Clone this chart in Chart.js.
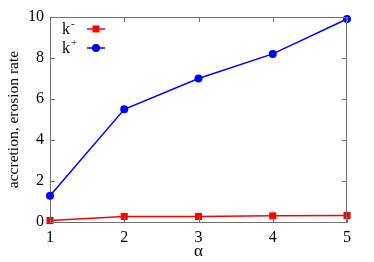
<!DOCTYPE html>
<html>
<head>
<meta charset="utf-8">
<script src="https://cdn.jsdelivr.net/npm/chart.js@4/dist/chart.umd.min.js"></script>
<style>
  html, body { margin: 0; padding: 0; background: #fff; }
  #wrap { width: 374px; height: 262px; }
</style>
</head>
<body>
<div id="wrap"><canvas id="graph"></canvas></div>
<script>
// alpha values and the two rates
var alpha = [1, 2, 3, 4, 5];
var kMoins = [0.07, 0.27, 0.27, 0.30, 0.32];
var kPlus = [1.28, 5.5, 7.0, 8.2, 9.9];
var xTicks = [1, 2, 3, 4, 5];
var yTicks = [0, 2, 4, 6, 8, 10];

var police = 'Liberation Serif, Times New Roman, serif';
var gris = '#707070';

function points(ys) {
  return alpha.map(function (a, i) { return { x: a, y: ys[i] }; });
}

// ticks vers l'interieur + bord haut/droit, facon gnuplot
var cadre = {
  id: 'cadre',
  afterDatasetsDraw: function (chart) {
    var c = chart.ctx, a = chart.chartArea;
    var sx = chart.scales.x, sy = chart.scales.y;
    var L = 5;
    c.save();
    c.strokeStyle = gris;
    c.lineWidth = 1;
    c.beginPath();
    c.moveTo(a.left, a.top + 0.5); c.lineTo(a.right, a.top + 0.5);
    c.moveTo(a.right - 0.5, a.top); c.lineTo(a.right - 0.5, a.bottom);
    xTicks.forEach(function (v) {
      var px = Math.round(sx.getPixelForValue(v)) + 0.5;
      c.moveTo(px, a.bottom); c.lineTo(px, a.bottom - L);
      c.moveTo(px, a.top); c.lineTo(px, a.top + L);
    });
    yTicks.forEach(function (v) {
      var py = Math.round(sy.getPixelForValue(v)) + 0.5;
      c.moveTo(a.left, py); c.lineTo(a.left + L, py);
      c.moveTo(a.right, py); c.lineTo(a.right - L, py);
    });
    c.stroke();

    // legende : texte a gauche, echantillon a droite
    var ds = chart.data.datasets;
    var lignes = [29, 48];
    ds.forEach(function (d, i) {
      var y = lignes[i];
      c.fillStyle = '#000';
      c.font = '16px ' + police;
      c.textBaseline = 'alphabetic';
      c.textAlign = 'left';
      c.fillText('k', 62, y + 5);
      c.font = '11px ' + police;
      c.fillText(d.exposant, 71, y - 2);
      c.strokeStyle = d.borderColor;
      c.lineWidth = 1.5;
      c.beginPath();
      c.moveTo(87, y); c.lineTo(105, y);
      c.stroke();
      c.fillStyle = d.backgroundColor;
      c.beginPath();
      if (d.pointStyle === 'rect') {
        c.rect(96 - 3.5, y - 3.5, 7, 7);
      } else {
        c.arc(96, y, 4, 0, Math.PI * 2);
      }
      c.fill();
    });
    c.restore();
  }
};

new Chart('graph', {
  type: 'line',
  data: {
    datasets: [{
      label: 'k-',
      exposant: '-',
      data: points(kMoins),
      borderColor: '#ff0000',
      backgroundColor: '#ff0000',
      borderWidth: 1.5,
      pointStyle: 'rect',
      pointRadius: 5,
      pointBorderWidth: 0,
      clip: false
    }, {
      label: 'k+',
      exposant: '+',
      data: points(kPlus),
      borderColor: '#0000ff',
      backgroundColor: '#0000ff',
      borderWidth: 1.5,
      pointStyle: 'circle',
      pointRadius: 4,
      pointBorderWidth: 0,
      clip: false
    }]
  },
  options: {
    responsive: true,
    maintainAspectRatio: false,
    animation: false,
    layout: { padding: { top: 17, right: 27, left: 0, bottom: 0 } },
    plugins: { legend: { display: false }, tooltip: { enabled: false } },
    scales: {
      x: {
        type: 'linear', min: 1, max: 5,
        afterBuildTicks: function (s) { s.ticks = xTicks.map(function (v) { return { value: v }; }); },
        afterFit: function (s) { s.height = 40; },
        grid: { display: false, drawTicks: false },
        border: { display: true, color: gris, width: 1 },
        ticks: { color: '#000', padding: 6, font: { family: police, size: 16 } },
        title: { display: true, text: 'α', color: '#000', padding: { top: 0, bottom: 0 }, font: { family: police, size: 17 } }
      },
      y: {
        min: 0, max: 10,
        afterBuildTicks: function (s) { s.ticks = yTicks.map(function (v) { return { value: v }; }); },
        afterFit: function (s) { s.width = 50; },
        grid: { display: false, drawTicks: false },
        border: { display: true, color: gris, width: 1 },
        ticks: { color: '#000', padding: 6, font: { family: police, size: 16 } },
        title: { display: true, text: 'accretion, erosion rate', color: '#000', padding: { top: 5, bottom: 0 }, font: { family: police, size: 15.5 } }
      }
    }
  },
  plugins: [cadre]
});
</script>
</body>
</html>
